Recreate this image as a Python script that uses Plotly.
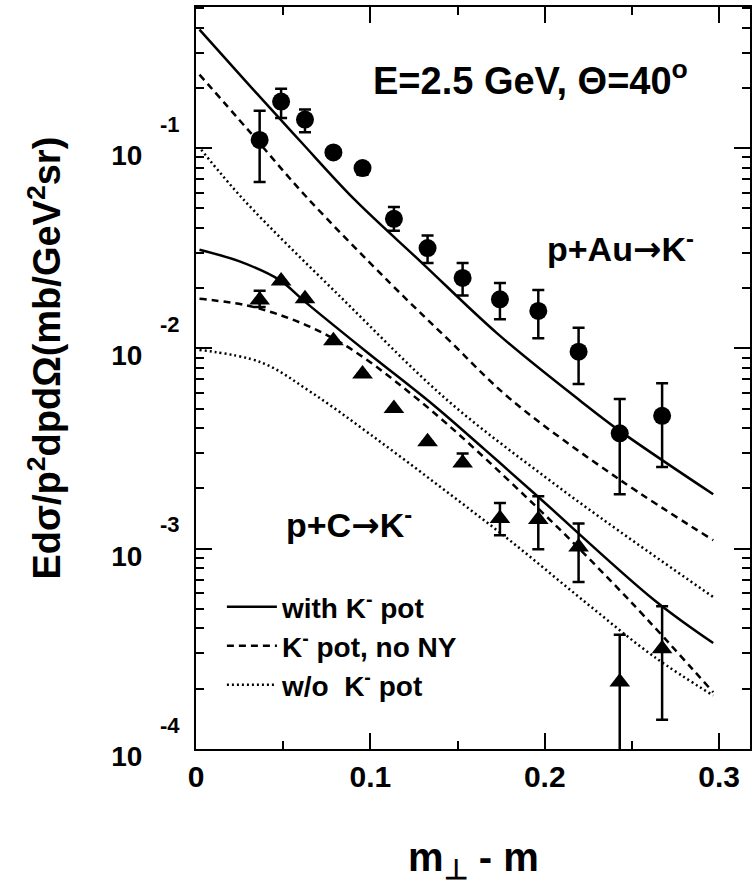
import plotly.graph_objects as go

# ---------------- data ----------------
x_pts = [0.0365, 0.0488, 0.0625, 0.0788, 0.0955, 0.1135, 0.1328, 0.1529,
         0.1743, 0.1963, 0.2194, 0.2430, 0.2673]

# p+Au -> K-  (circles)
au_val = [0.110, 0.171, 0.139, 0.0953, 0.0796, 0.0444, 0.0317, 0.0225,
          0.0176, 0.0154, 0.00964, 0.00377, 0.00461]
au_hi = [0.154, 0.198, 0.156, 0.0953, 0.0843, 0.0508, 0.0366, 0.0267,
         0.0212, 0.0196, 0.0127, 0.0056, 0.0067]
au_lo = [0.0678, 0.1416, 0.120, 0.0953, 0.0737, 0.0387, 0.0267, 0.01836,
         0.0140, 0.01125, 0.00665, 0.00187, 0.00256]

# p+C -> K-  (triangles)
c_val = [0.01744, 0.02175, 0.0177, 0.01094, 0.00746, 0.00502, 0.00342, 0.00268,
         0.001416, 0.00140, 0.00102, 0.000216, 0.000317]
c_hi = [0.0194, 0.02175, 0.0177, 0.01094, 0.00746, 0.00502, 0.00342, 0.00299,
        0.001694, 0.00183, 0.001337, 0.000372, 0.000516]
c_lo = [0.0161, 0.02175, 0.0177, 0.01094, 0.00746, 0.00502, 0.00342, 0.00268,
        0.001168, 0.000994, 0.000682, 0.00005, 0.00014]

# model curves
au_solid_x = [0.002, 0.03, 0.06, 0.091, 0.1297, 0.1727, 0.2198, 0.2424, 0.2966]
au_solid_y = [0.391, 0.209, 0.108, 0.0553, 0.0267, 0.0119, 0.00553, 0.00391, 0.00187]

au_dash_x = [0.002, 0.03, 0.0631, 0.1113, 0.145, 0.1809, 0.2424, 0.2966]
au_dash_y = [0.233, 0.123, 0.0574, 0.0212, 0.0110, 0.00553, 0.00223, 0.001103]

au_dot_x = [0.003, 0.0273, 0.0846, 0.144, 0.200, 0.2424, 0.2966]
au_dot_y = [0.0983, 0.0553, 0.01748, 0.00553, 0.00229, 0.00123, 0.000574]

c_solid_x = [0.002, 0.025, 0.0478, 0.0624, 0.099, 0.1358, 0.165, 0.1952, 0.2629, 0.2966]
c_solid_y = [0.0311, 0.0272, 0.0220, 0.01714, 0.00944, 0.00525, 0.00316, 0.00185, 0.000553, 0.000338]

c_dash_x = [0.002, 0.0355, 0.0785, 0.1277, 0.1952, 0.2485, 0.2966]
c_dash_y = [0.0177, 0.0159, 0.01125, 0.00553, 0.00162, 0.000553, 0.000192]

c_dot_x = [0.002, 0.0375, 0.0662, 0.100, 0.140, 0.180, 0.2219, 0.2629, 0.2966]
c_dot_y = [0.00983, 0.00851, 0.00603, 0.00372, 0.00204, 0.00110, 0.000553, 0.000288, 0.000185]

x_ticks = [0, 0.1, 0.2, 0.3]
x_ticktext = ["0", "0.1", "0.2", "0.3"]
y_decades = [-4, -3, -2, -1]

# ---------------- figure ----------------
FONT = "Liberation Sans, Arial, Helvetica, sans-serif"
ARROW = "<span style=\"font-family:'DejaVu Sans'\">→</span>"
fig = go.Figure()


def err(val, hi, lo):
    return [h - v for v, h in zip(val, hi)], [v - l for v, l in zip(val, lo)]


LW = 2.5
legend_rows = []
for i, (xs, ys, dash, name) in enumerate([
    (c_solid_x, c_solid_y, "solid", "with K<sup>-</sup> pot"),
    (c_dash_x, c_dash_y, "7px,5px", "K<sup>-</sup> pot, no NY"),
    (c_dot_x, c_dot_y, "2px,3px", "w/o  K<sup>-</sup> pot"),
]):
    fig.add_trace(go.Scatter(x=xs, y=ys, mode="lines", name=name,
                             legend="legend" if i == 0 else "legend%d" % (i + 1),
                             line=dict(color="black", width=LW, dash=dash, shape="spline"),
                             showlegend=True))
for xs, ys, dash in [
    (au_solid_x, au_solid_y, "solid"),
    (au_dash_x, au_dash_y, "7px,5px"),
    (au_dot_x, au_dot_y, "2px,3px"),
]:
    fig.add_trace(go.Scatter(x=xs, y=ys, mode="lines", showlegend=False,
                             line=dict(color="black", width=LW, dash=dash, shape="spline")))

eh, el = err(au_val, au_hi, au_lo)
fig.add_trace(go.Scatter(x=x_pts, y=au_val, mode="markers", showlegend=False,
                         marker=dict(symbol="circle", size=18, color="black"),
                         error_y=dict(type="data", symmetric=False, array=eh, arrayminus=el,
                                      color="black", thickness=2.5, width=6)))
eh, el = err(c_val, c_hi, c_lo)
fig.add_trace(go.Scatter(x=x_pts, y=c_val, mode="markers", showlegend=False,
                         marker=dict(symbol="triangle-up", size=18, color="black"),
                         error_y=dict(type="data", symmetric=False, array=eh, arrayminus=el,
                                      color="black", thickness=2.5, width=6)))

axis_common = dict(showline=True, linewidth=2, linecolor="black", mirror="ticks",
                   ticks="inside", tickwidth=2, ticklen=16, tickcolor="black",
                   showgrid=False, zeroline=False)

fig.update_xaxes(range=[0, 0.3177], tickmode="array", tickvals=x_ticks, ticktext=x_ticktext,
                 tickfont=dict(family=FONT, size=30, color="black", weight="bold"),
                 ticklabelstandoff=0,
                 minor=dict(tickmode="array", tickvals=[0.05, 0.15, 0.25], ticks="inside",
                            ticklen=8, tickwidth=2, tickcolor="black"),
                 **axis_common)

minor_y = [m * 10 ** d for d in [-4, -3, -2, -1] for m in range(2, 10)]
fig.update_yaxes(type="log", range=[-4, -0.295], tickmode="array",
                 tickvals=[10 ** d for d in y_decades], ticktext=["10"] * len(y_decades),
                 tickfont=dict(family=FONT, size=28, color="black", weight="bold"),
                 ticklabelstandoff=46, ticklabelshift=7,
                 minor=dict(tickmode="array", tickvals=minor_y, ticks="inside",
                            ticklen=8, tickwidth=2, tickcolor="black"),
                 **axis_common)

ann = []
for d in y_decades:
    ann.append(dict(text=str(d), xref="paper", yref="y", x=-14 / 556, y=d,
                    xanchor="right", yanchor="middle", yshift=24, showarrow=False,
                    font=dict(family=FONT, size=22, color="black", weight="bold")))
ann += [
    dict(text="Edσ/p<sup>2</sup>dpdΩ(mb/GeV<sup>2</sup>sr)", textangle=-90,
         xref="paper", yref="paper", x=(44 - 196) / 556, y=(749 - 358) / 742,
         xanchor="center", yanchor="middle", showarrow=False,
         font=dict(family=FONT, size=38, color="black", weight="bold")),
    dict(text="m<sub>⊥</sub> - m", xref="paper", yref="paper", x=0.5, y=(749 - 860) / 742,
         xanchor="center", yanchor="middle", showarrow=False,
         font=dict(family=FONT, size=40, color="black", weight="bold")),
    dict(text="E=2.5 GeV, Θ=40<sup>o</sup>", xref="paper", yref="paper",
         x=(372 - 196) / 556, y=(749 - 78) / 742, xanchor="left", yanchor="middle",
         showarrow=False, font=dict(family=FONT, size=38, color="black", weight="bold")),
    dict(text="p+Au" + ARROW + "K<sup>-</sup>", xref="paper", yref="paper",
         x=(546 - 196) / 556, y=(749 - 247) / 742, xanchor="left", yanchor="middle",
         showarrow=False, font=dict(family=FONT, size=34, color="black", weight="bold")),
    dict(text="p+C" + ARROW + "K<sup>-</sup>", xref="paper", yref="paper",
         x=(284 - 196) / 556, y=(749 - 523) / 742, xanchor="left", yanchor="middle",
         showarrow=False, font=dict(family=FONT, size=34, color="black", weight="bold")),
]

leg_common = dict(x=(222 - 196) / 556, xanchor="left", yanchor="middle",
                  bgcolor="rgba(0,0,0,0)", borderwidth=0,
                  font=dict(family=FONT, size=28, color="black", weight="bold"),
                  itemwidth=50)
fig.update_layout(
    width=752, height=885,
    margin=dict(l=196, r=0, t=7, b=136, pad=0),
    paper_bgcolor="white", plot_bgcolor="white",
    font=dict(family=FONT, color="black"),
    annotations=ann,
    showlegend=True,
    legend=dict(y=(749 - 607) / 742, **leg_common),
    legend2=dict(y=(749 - 646) / 742, **leg_common),
    legend3=dict(y=(749 - 685) / 742, **leg_common),
)

fig.write_html("out.html")
